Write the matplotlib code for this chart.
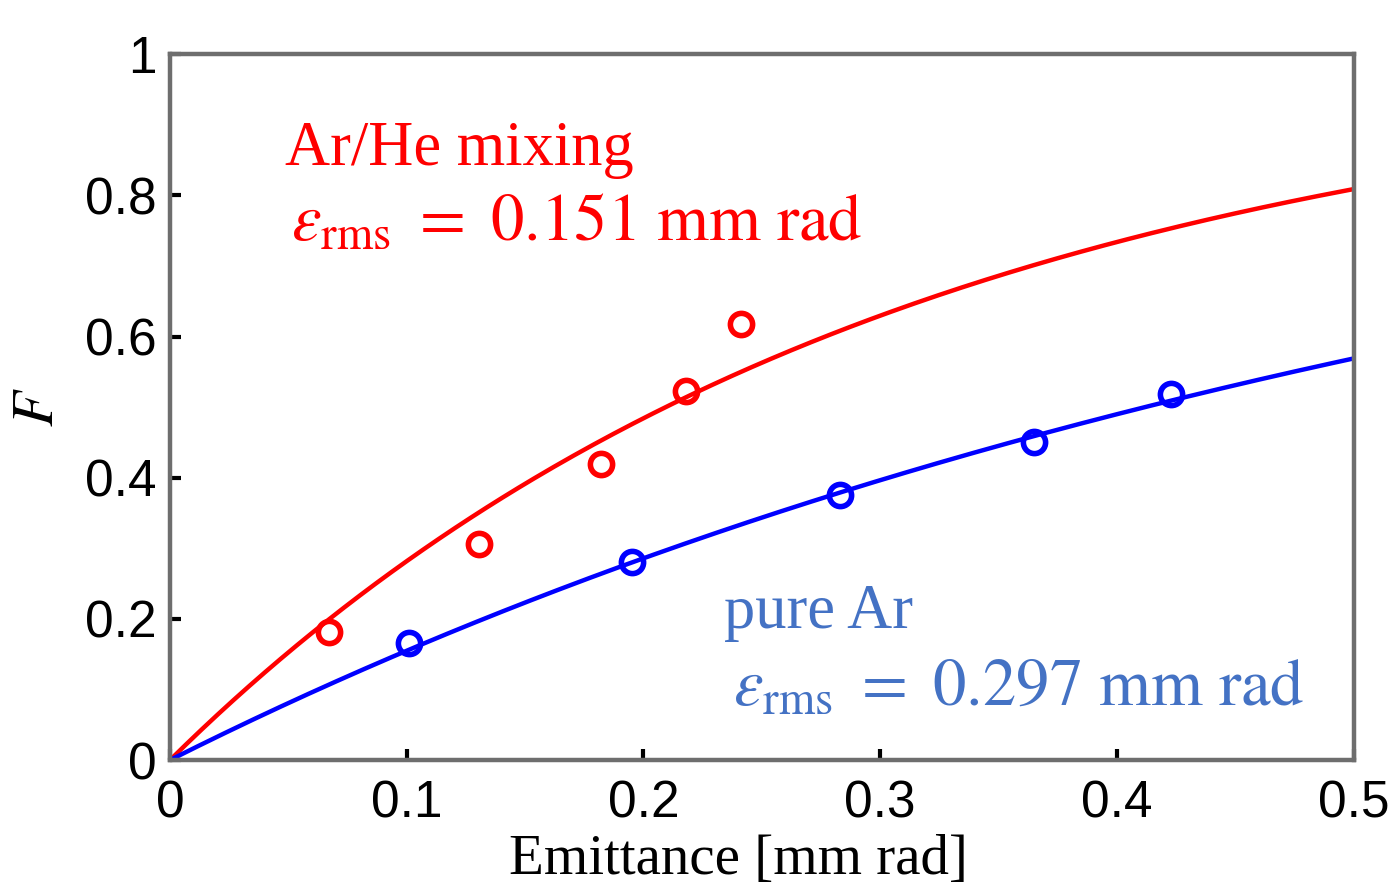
import numpy as np
import matplotlib
matplotlib.use("Agg")
from matplotlib import pyplot as plt

mix_x = [0.067, 0.1305, 0.182, 0.218, 0.241]
mix_F = [0.181, 0.306, 0.419, 0.523, 0.618]
ar_x = [0.101, 0.195, 0.283, 0.365, 0.423]
ar_F = [0.166, 0.280, 0.375, 0.450, 0.518]

# fitted rms emittance [mm rad]
eps_mix = 0.151
eps_ar = 0.297

xticks = [0, 0.1, 0.2, 0.3, 0.4, 0.5]
yticks = [0, 0.2, 0.4, 0.6, 0.8, 1]

plt.rcParams['mathtext.fontset'] = 'stix'

fig = plt.figure(figsize=(13.94, 8.91), dpi=100)
ax = fig.add_axes([0.122, 0.147, 0.849, 0.792])

# fit curve F = 1 - exp(-e / (2 eps_rms))
e = np.linspace(0, 0.5, 300)
ax.plot(e, 1 - np.exp(-e / (2 * eps_mix)), color='#ff0000', lw=3.2, zorder=2)
ax.plot(e, 1 - np.exp(-e / (2 * eps_ar)), color='#0000ff', lw=3.2, zorder=2)

ax.plot(mix_x, mix_F, 'o', mfc='none', mec='#ff0000', ms=16, mew=4, zorder=3)
ax.plot(ar_x, ar_F, 'o', mfc='none', mec='#0000ff', ms=16, mew=4, zorder=3)

ax.set_xlim(0, 0.5)
ax.set_ylim(0, 1)
ax.set_xticks(xticks)
ax.set_yticks(yticks)
ax.set_xticklabels(['%g' % v for v in xticks])
ax.set_yticklabels(['%g' % v for v in yticks])
ax.tick_params(direction='in', length=8, width=3, color='black', labelsize=37)
ax.tick_params(axis='x', pad=14)
ax.tick_params(axis='y', pad=10)
for lab in ax.get_xticklabels() + ax.get_yticklabels():
    lab.set_fontfamily('Liberation Sans')
for sp in ax.spines.values():
    sp.set_color('#6e6e6e')
    sp.set_linewidth(3.2)

ax.set_xlabel('Emittance [mm rad]', fontsize=41, family='Liberation Serif', labelpad=4)
ax.xaxis.label.set_x(0.48)
ax.set_ylabel('$F$', fontsize=42, labelpad=14)

# annotations
ax.text(0.0486, 0.843, 'Ar/He mixing', color='#ff0000', fontsize=45,
        family='Liberation Serif')
ax.text(0.051, 0.737, r'$\varepsilon_{\mathrm{rms}}\ =\ 0.151\ \mathrm{mm\ rad}$',
        color='#ff0000', fontsize=48)
ax.text(0.234, 0.187, 'pure Ar', color='#4472c4', fontsize=45,
        family='Liberation Serif')
ax.text(0.238, 0.078, r'$\varepsilon_{\mathrm{rms}}\ =\ 0.297\ \mathrm{mm\ rad}$',
        color='#4472c4', fontsize=48)

plt.savefig('out.png', dpi=100)
